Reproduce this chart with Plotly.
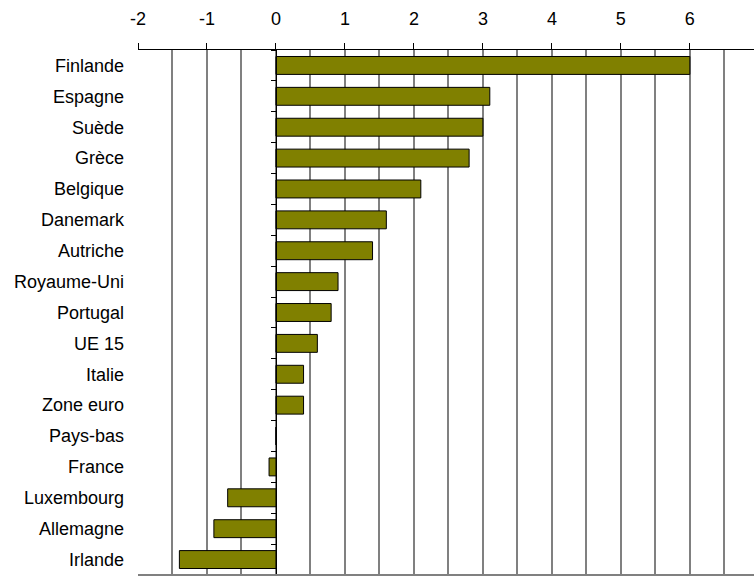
import plotly.graph_objects as go

countries = ["Finlande", "Espagne", "Suède", "Grèce", "Belgique", "Danemark", "Autriche",
             "Royaume-Uni", "Portugal", "UE 15", "Italie", "Zone euro", "Pays-bas",
             "France", "Luxembourg", "Allemagne", "Irlande"]
values = [6.0, 3.1, 3.0, 2.8, 2.1, 1.6, 1.4, 0.9, 0.8, 0.6, 0.4, 0.4, 0.0,
          -0.1, -0.7, -0.9, -1.4]
x_ticks = [-2, -1, 0, 1, 2, 3, 4, 5, 6]
x_range = [-2, 6.93]

FONT = "Liberation Sans, Arial, sans-serif"
order = list(reversed(countries))

fig = go.Figure()
fig.add_trace(go.Bar(
    x=values, y=countries, orientation="h",
    marker=dict(color="#808000", line=dict(color="#000000", width=1)),
    yaxis="y", xaxis="x", hoverinfo="x+y",
))
# invisible helper trace so the zero-position axis gets its category ticks
fig.add_trace(go.Scatter(
    x=[0] * len(countries), y=countries, mode="markers",
    marker=dict(opacity=0), yaxis="y2", xaxis="x", showlegend=False, hoverinfo="skip",
))

zero_pos = (0 - x_range[0]) / (x_range[1] - x_range[0])

fig.update_layout(
    width=754, height=576,
    margin=dict(l=138, r=0, t=50, b=1),
    paper_bgcolor="white", plot_bgcolor="white",
    showlegend=False, bargap=0.42,
    font=dict(family=FONT, color="#000000"),
    xaxis=dict(
        side="top", range=x_range, tickvals=x_ticks,
        ticktext=[str(v) for v in x_ticks],
        showgrid=True, gridcolor="#808080", gridwidth=1.5,
        minor=dict(dtick=0.5, tick0=0, showgrid=True, gridcolor="#808080", gridwidth=1.5, ticks=""),
        showline=True, linecolor="#000000", linewidth=1,
        ticks="outside", ticklen=6, tickcolor="#000000", tickwidth=1,
        ticklabelstandoff=11,
        zeroline=False,
        tickfont=dict(size=18, family=FONT, color="#000000"),
        fixedrange=True,
    ),
    yaxis=dict(
        categoryorder="array", categoryarray=order,
        showgrid=False, showline=False, ticks="",
        tickfont=dict(size=18, family=FONT, color="#000000"),
        ticklabelstandoff=13,
        range=[-0.5, len(countries) - 0.5],
    ),
    yaxis2=dict(
        overlaying="y", anchor="free", position=zero_pos,
        categoryorder="array", categoryarray=order,
        range=[-0.5, len(countries) - 0.5],
        showgrid=False, showline=True, linecolor="#000000", linewidth=1,
        ticks="outside", tickson="boundaries", ticklen=5, tickcolor="#000000",
        showticklabels=False,
    ),
    shapes=[dict(type="line", xref="paper", yref="paper", x0=0, x1=1, y0=0, y1=0,
                 line=dict(color="#808080", width=2))],
)

fig.write_html("out.html")
